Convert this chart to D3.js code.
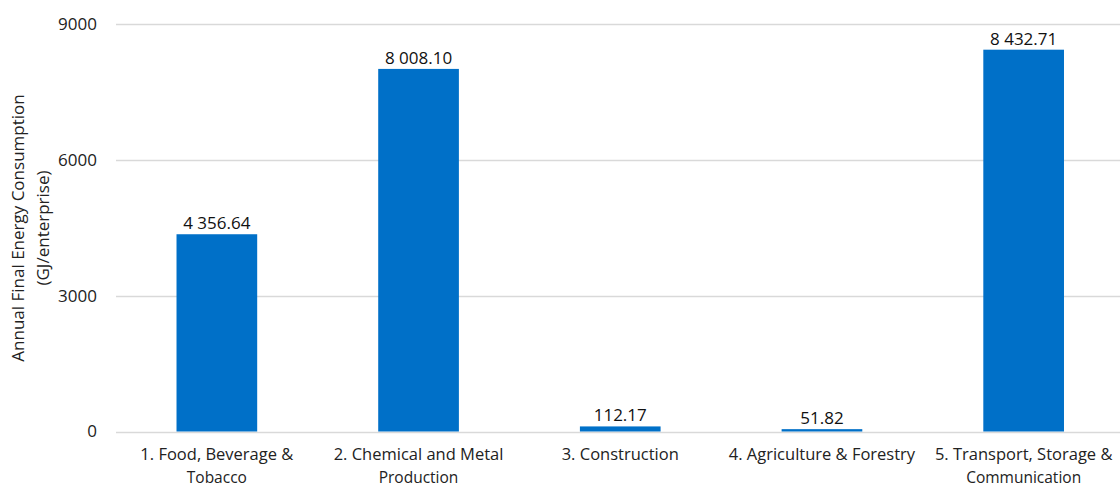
<!DOCTYPE html>
<html>
<head>
<meta charset="utf-8">
<script src="https://cdn.jsdelivr.net/npm/d3@7"></script>
<style>
  body { margin: 0; background: #fff; }
  svg { font-family: "Open Sans", sans-serif; }
</style>
</head>
<body>
<div id="chart"></div>
<script>
var categories = ["1. Food, Beverage & Tobacco", "2. Chemical and Metal Production", "3. Construction",
                  "4. Agriculture & Forestry", "5. Transport, Storage & Communication"];
var values = [4356.64, 8008.10, 112.17, 51.82, 8432.71];
var yTicks = [0, 3000, 6000, 9000];
var yTitle = ["Annual Final Energy Consumption", "(GJ/enterprise)"];

var width = 1120, height = 487;

var svg = d3.select("#chart").append("svg")
    .attr("width", width).attr("height", height);

var x = d3.scaleBand()
    .domain(categories)
    .range([116, 1124.5])
    .paddingInner(0.6)
    .paddingOuter(0.3);

var y = d3.scaleLinear()
    .domain([0, 9000])
    .range([431.5, 24]);

var fmt = d3.formatLocale({decimal: ".", thousands: " ", grouping: [3], currency: ["", ""]}).format(",.2f");

// gridlines
svg.append("g")
    .selectAll("line")
    .data(yTicks)
    .join("line")
    .attr("x1", 116).attr("x2", width)
    .attr("y1", function(d) { return Math.round(y(d)) + 0.5; })
    .attr("y2", function(d) { return Math.round(y(d)) + 0.5; })
    .attr("stroke", "#d9d9d9")
    .attr("stroke-width", 1.3);

// y tick labels
svg.append("g")
    .selectAll("text")
    .data(yTicks)
    .join("text")
    .attr("x", 97)
    .attr("y", function(d) { return y(d); })
    .attr("dy", "0.35em")
    .attr("text-anchor", "end")
    .attr("font-size", 17)
    .attr("fill", "#222")
    .text(function(d) { return d; });

// y axis title
var yt = svg.append("text")
    .attr("transform", "translate(24,228) rotate(-90)")
    .attr("text-anchor", "middle")
    .attr("font-size", 17)
    .attr("fill", "#222");
yt.selectAll("tspan")
    .data(yTitle)
    .join("tspan")
    .attr("x", 0)
    .attr("dy", function(d, i) { return i ? 25 : 0; })
    .text(function(d) { return d; });

// bars
svg.append("g")
    .selectAll("rect")
    .data(values)
    .join("rect")
    .attr("x", function(d, i) { return x(categories[i]); })
    .attr("width", x.bandwidth())
    .attr("y", function(d) { return y(d); })
    .attr("height", function(d) { return y(0) - y(d); })
    .attr("fill", "#0070c8");

// value labels
svg.append("g")
    .selectAll("text")
    .data(values)
    .join("text")
    .attr("x", function(d, i) { return x(categories[i]) + x.bandwidth() / 2; })
    .attr("y", function(d) { return y(d) - 5; })
    .attr("text-anchor", "middle")
    .attr("font-size", 17)
    .attr("fill", "#111")
    .text(function(d) { return fmt(d); });

// category labels, wrapped to the band step
var catG = svg.append("g");
categories.forEach(function(c) {
    var t = catG.append("text")
        .attr("x", x(c) + x.bandwidth() / 2)
        .attr("y", 460)
        .attr("text-anchor", "middle")
        .attr("font-size", 16.5)
        .attr("fill", "#222");
    var words = c.split(" "), line = [], lines = [];
    var probe = t.append("tspan");
    words.forEach(function(w) {
        line.push(w);
        probe.text(line.join(" "));
        if (probe.node().getComputedTextLength() > x.step() - 2 && line.length > 1) {
            line.pop();
            lines.push(line.join(" "));
            line = [w];
        }
    });
    lines.push(line.join(" "));
    probe.remove();
    t.selectAll("tspan")
        .data(lines)
        .join("tspan")
        .attr("x", x(c) + x.bandwidth() / 2)
        .attr("dy", function(d, i) { return i ? 22.5 : 0; })
        .attr("font-size", function(d, i) { return i ? 15.5 : 16.5; })
        .text(function(d) { return d; });
});
</script>
</body>
</html>
